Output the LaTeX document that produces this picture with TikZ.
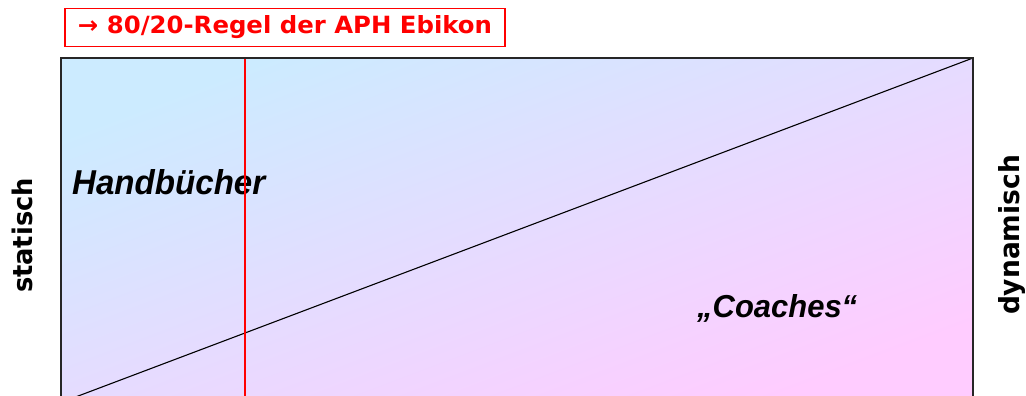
\documentclass[tikz,border=0pt]{standalone}
\usepackage{fontspec}
\setmainfont{DejaVu Sans}
\newfontfamily\brushfont{Liberation Sans}
\usepackage{graphicx}
\definecolor{cblue}{RGB}{204,235,255}
\definecolor{cpink}{RGB}{255,204,255}
\tikzset{
  framebox/.style={draw=black!85, line width=1.4pt},
  redline/.style={draw=red, line width=1.5pt},
  titlebox/.style={draw=red, line width=1.6pt, fill=white, minimum width=440pt, minimum height=38pt, inner sep=0pt},
  sidelabel/.style={rotate=90, anchor=base, inner sep=0pt},
  scriptlabel/.style={anchor=base west, inner sep=0pt},
}
\begin{document}
\begin{tikzpicture}[x=1pt,y=1pt]
\useasboundingbox (0,0) rectangle (1026,396);
\coordinate (bl) at (61,-6.5);
\coordinate (tr) at (973,338);
\coordinate (rtop) at (245,338);
\coordinate (rbot) at (245,-6.5);
\begin{scope}
\clip (0,0) rectangle (1026,396);
\shade[top color=cblue, bottom color=cpink, shading angle=20.7] (bl) rectangle (tr);
\draw[line width=1.1pt] (bl) -- (tr);
\node[scriptlabel] (hb) at (72,201) {\resizebox{193pt}{25pt}{\brushfont\bfseries\itshape Handbücher}};
\node[scriptlabel] (co) at (697,78) {\resizebox{160pt}{23pt}{\brushfont\bfseries\itshape „Coaches“}};
\draw[redline] (rtop) -- (rbot);
\draw[framebox] (bl) rectangle (tr);
\end{scope}
\node[titlebox] (title) at (285,368.5) {\resizebox{414pt}{18pt}{\color{red}\bfseries → 80/20-Regel der APH Ebikon}};
\node[sidelabel] (stat) at (32.3,160.5) {\resizebox{115pt}{20.5pt}{\bfseries statisch}};
\node[sidelabel] (dyn) at (1019.3,161) {\resizebox{160pt}{21pt}{\bfseries dynamisch}};
\end{tikzpicture}
\end{document}
